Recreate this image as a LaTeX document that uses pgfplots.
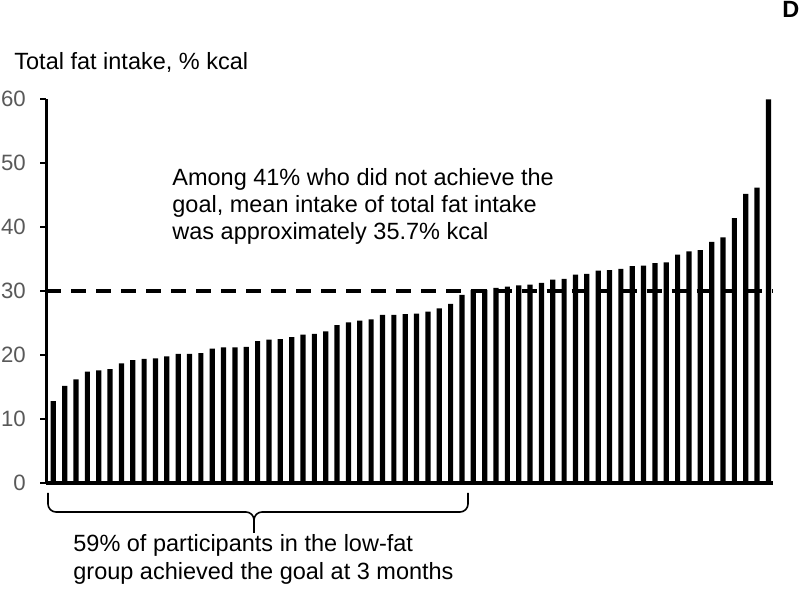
\documentclass[border=0pt]{standalone}
\usepackage{pgfplots}
\pgfplotsset{compat=1.18}
\usepackage{fontspec}
\setmainfont{Liberation Sans}
\definecolor{ticktext}{RGB}{89,89,89}
\newcommand\fs{\fontsize{11.75pt}{13.5pt}\selectfont}

\begin{document}
\begin{tikzpicture}
\useasboundingbox (0,0) rectangle (400pt,-298.5pt);
\begin{axis}[
  at={(23.25pt,-241.5pt)}, anchor=south west,
  scale only axis, width=363.25pt, height=191.85pt,
  xmin=0.4, xmax=64.4, ymin=0, ymax=60,
  axis x line*=bottom, axis y line*=left,
  x axis line style={line width=2pt},
  y axis line style={line width=1.1pt},
  xtick=\empty, ytick={0,10,20,30,40,50,60},
  tick align=outside, major tick length=3pt,
  every tick/.style={black, line width=1pt},
  yticklabel style={font=\fontsize{11.1pt}{12pt}\selectfont, text=ticktext, xshift=-3.8pt},
  /pgf/number format/assume math mode=true,
  clip=false,
]
\addplot[ybar, bar width=2.6pt, fill=black, draw=none] coordinates {
(1,12.8) (2,15.2) (3,16.2) (4,17.4) (5,17.6) (6,17.8) (7,18.7) (8,19.2)
(9,19.4) (10,19.5) (11,19.8) (12,20.2) (13,20.2) (14,20.3) (15,21.0) (16,21.2)
(17,21.2) (18,21.3) (19,22.2) (20,22.4) (21,22.5) (22,22.8) (23,23.2) (24,23.3)
(25,23.7) (26,24.7) (27,25.1) (28,25.4) (29,25.6) (30,26.3) (31,26.3) (32,26.4)
(33,26.5) (34,26.8) (35,27.3) (36,28.0) (37,29.4) (38,30.2) (39,30.2) (40,30.5)
(41,30.7) (42,30.9) (43,31.0) (44,31.3) (45,31.8) (46,31.9) (47,32.6) (48,32.7)
(49,33.2) (50,33.3) (51,33.5) (52,33.9) (53,34.0) (54,34.4) (55,34.5) (56,35.7)
(57,36.2) (58,36.4) (59,37.7) (60,38.4) (61,41.4) (62,45.2) (63,46.2) (64,60.0)
};
\draw[line width=1.8pt, dash pattern=on 7.5pt off 5pt] (axis cs:0.4,30) -- (axis cs:64.4,30);
\end{axis}
\begin{scope}[x=0.5pt,y=-0.5pt]
\node[anchor=base west, inner sep=0pt, font=\fs] at (14,69.5) {Total fat intake, \% kcal};
\node[anchor=base west, inner sep=0pt, font=\fs\bfseries] at (782,18) {D};
\node[anchor=base west, inner sep=0pt, font=\fs] at (172,186) {Among 41\% who did not achieve the};
\node[anchor=base west, inner sep=0pt, font=\fs] at (172,213) {goal, mean intake of total fat intake};
\node[anchor=base west, inner sep=0pt, font=\fs] at (172,240) {was approximately 35.7\% kcal};
\node[anchor=base west, inner sep=0pt, font=\fs] at (73,552) {59\% of participants in the low-fat};
\node[anchor=base west, inner sep=0pt, font=\fs] at (73,580) {group achieved the goal at 3 months};
\draw[line width=0.8pt, rounded corners=4pt] (48,493) -- (48,512) -- (254,512) -- (254,533);
\draw[line width=0.8pt, rounded corners=4pt] (468,493) -- (468,512) -- (254,512) -- (254,533);
\end{scope}
\end{tikzpicture}
\end{document}
